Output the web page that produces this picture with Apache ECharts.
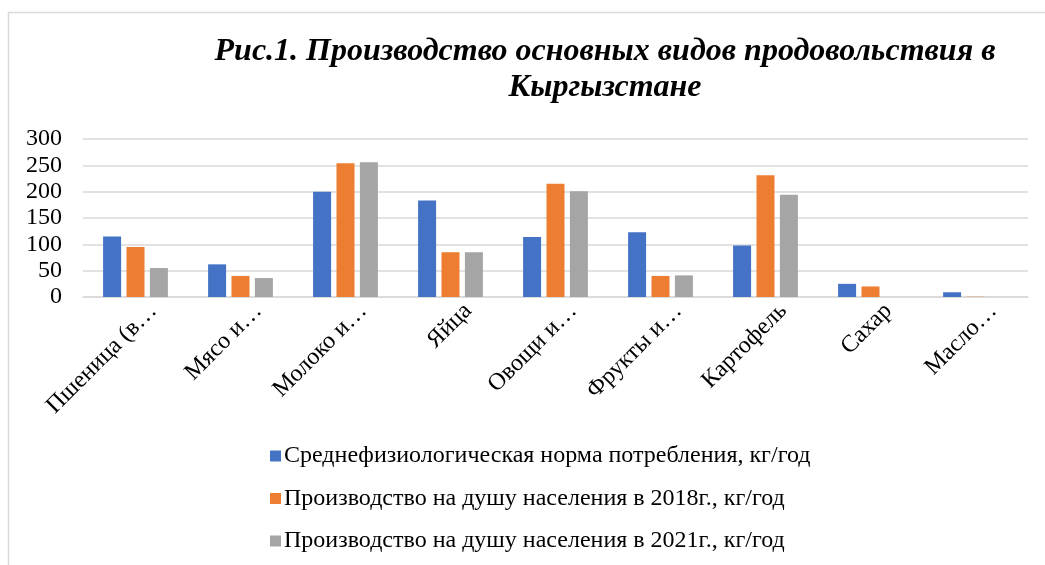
<!DOCTYPE html>
<html>
<head>
<meta charset="utf-8">
<script src="https://cdn.jsdelivr.net/npm/echarts@6/dist/echarts.min.js"></script>
<style>html,body{margin:0;padding:0;background:#fff;}#c{width:1045px;height:565px;}</style>
</head>
<body>
<div id="c"></div>
<script>
const categories = ["Пшеница (в…", "Мясо и…", "Молоко и…", "Яйца", "Овощи и…", "Фрукты и…", "Картофель", "Сахар", "Масло…"];
const seriesNames = [
  "Среднефизиологическая норма потребления, кг/год",
  "Производство на душу населения в 2018г., кг/год",
  "Производство на душу населения в 2021г., кг/год"
];
const normValues = [115, 62, 200, 183, 114, 123, 98, 25, 9];
const prod2018 = [95, 40, 254, 85, 215, 40, 231, 20, 0.5];
const prod2021 = [55, 36, 256, 85, 201, 41, 194, null, null];
const yTicks = [0, 50, 100, 150, 200, 250, 300];
const titleText = "Рис.1. Производство основных видов продовольствия в\nКыргызстане";

const serif = '"Liberation Serif", "Times New Roman", "DejaVu Serif", serif';
const colors = ['#4472C4', '#ED7D31', '#A5A5A5'];
const chart = echarts.init(document.getElementById('c'), null, {renderer: 'canvas'});
const dataSets = [normValues, prod2018, prod2021];
chart.setOption({
  animation: false,
  color: colors,
  title: {
    text: titleText,
    left: 600,
    top: 29,
    textAlign: 'center',
    textStyle: {
      fontFamily: serif, fontSize: 32, fontWeight: 'bold', fontStyle: 'italic',
      color: '#000', lineHeight: 36, align: 'center'
    }
  },
  graphic: [{
    type: 'polyline',
    shape: {points: [[8.5, 600], [8.5, 12.5], [1100, 12.5]]},
    style: {stroke: '#d9d9d9', lineWidth: 1.5, fill: null},
    silent: true
  }],
  legend: {
    orient: 'vertical',
    left: 265,
    top: 439,
    itemWidth: 11,
    itemHeight: 11,
    itemGap: 18.5,
    icon: 'rect',
    textStyle: {fontFamily: serif, fontSize: 24, color: '#000', padding: [0, 0, 0, -2]},
    data: seriesNames
  },
  grid: {left: 83, right: 17, top: 139, bottom: 268},
  xAxis: {
    type: 'category',
    data: categories,
    axisLine: {lineStyle: {color: '#d9d9d9', width: 1.5}},
    axisTick: {show: false},
    axisLabel: {
      rotate: 45, interval: 0, margin: 28,
      padding: [0, -25, 0, 0],
      fontFamily: serif, fontSize: 24, color: '#000'
    }
  },
  yAxis: {
    type: 'value',
    min: yTicks[0],
    max: yTicks[yTicks.length - 1],
    interval: 50,
    axisLine: {show: false},
    axisTick: {show: false},
    splitLine: {lineStyle: {color: '#d9d9d9', width: 1.5}},
    axisLabel: {fontFamily: serif, fontSize: 24, color: '#000', margin: 21}
  },
  series: seriesNames.map((n, i) => ({
    name: n,
    type: 'bar',
    data: dataSets[i],
    barWidth: 18,
    barGap: '30%',
    itemStyle: {color: colors[i]}
  }))
});
</script>
</body>
</html>
